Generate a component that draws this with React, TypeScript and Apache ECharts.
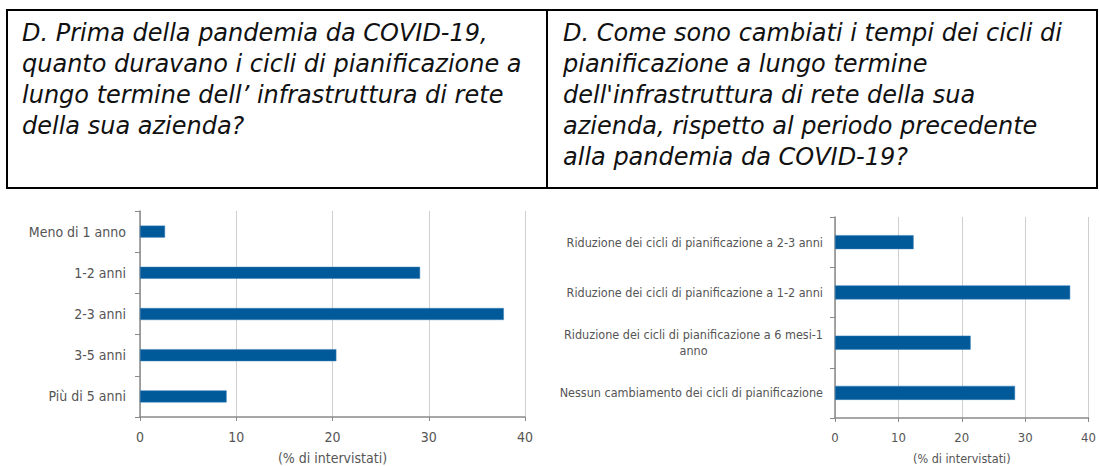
import React, { useEffect, useRef } from "react";
import * as echarts from "echarts";

const titleLeft = [
  "D. Prima della pandemia da COVID-19,",
  "quanto duravano i cicli di pianificazione a",
  "lungo termine dell’ infrastruttura di rete",
  "della sua azienda?",
];
const titleRight = [
  "D. Come sono cambiati i tempi dei cicli di",
  "pianificazione a lungo termine",
  "dell'infrastruttura di rete della sua",
  "azienda, rispetto al periodo precedente",
  "alla pandemia da COVID-19?",
];

const cats1 = ["Meno di 1 anno", "1-2 anni", "2-3 anni", "3-5 anni", "Più di 5 anni"];
const vals1 = [2.6, 29.1, 37.8, 20.4, 9.0];

const cats2 = [
  "Riduzione dei cicli di pianificazione a 2-3 anni",
  "Riduzione dei cicli di pianificazione a 1-2 anni",
  "Riduzione dei cicli di pianificazione a 6 mesi-1\nanno",
  "Nessun cambiamento dei cicli di pianificazione",
];
const vals2 = [12.4, 37.1, 21.4, 28.4];

const xTicks = [0, 10, 20, 30, 40];
const axisName = "(% di intervistati)";

const BAR = "#005a9a";
const AXIS = "#8a8a8a";
const GRID = "#cfcfcf";
const LABEL = "#555555";
const FONT = '"Liberation Sans Narrow", "DejaVu Sans Condensed", sans-serif';
const TFONT = 'italic 24px "DejaVu Sans", sans-serif';

export default function App() {
  const ref = useRef<HTMLDivElement>(null);
  useEffect(() => {
    const chart = echarts.init(ref.current!, undefined, { renderer: "svg" });
    const xAxisCommon = (gridIndex: number, size: number, nameSize: number) => ({
      type: "value" as const,
      gridIndex,
      min: xTicks[0],
      max: xTicks[xTicks.length - 1],
      interval: 10,
      name: axisName,
      nameLocation: "middle" as const,
      nameGap: 34,
      nameTextStyle: { color: LABEL, fontFamily: FONT, fontSize: nameSize },
      axisLine: { show: true, lineStyle: { color: AXIS, width: 1.5 } },
      axisTick: { show: true, length: 4, lineStyle: { color: AXIS } },
      axisLabel: { color: LABEL, fontFamily: FONT, fontSize: size, margin: 13 },
      splitLine: { show: true, lineStyle: { color: GRID, width: 1 } },
    });
    const yAxisCommon = (gridIndex: number, data: string[], size: number, margin: number) => ({
      type: "category" as const,
      gridIndex,
      data,
      inverse: true,
      axisLine: { show: true, lineStyle: { color: AXIS, width: 1.5 } },
      axisTick: { show: true, length: 5, lineStyle: { color: AXIS } },
      axisLabel: {
        color: LABEL,
        fontFamily: FONT,
        fontSize: size,
        margin,
        lineHeight: size + 4,
        formatter: (v: string) =>
          v.includes("\n") ? v.split("\n").map((l) => `{c|${l}}`).join("\n") : v,
        rich: { c: { align: "center", color: LABEL, fontFamily: FONT, fontSize: size, lineHeight: size + 4 } },
      },
      splitLine: { show: false },
    });

    const graphics: any[] = [
      { type: "rect", shape: { x: 7, y: 10, width: 1090, height: 178 }, style: { fill: "none", stroke: "#000", lineWidth: 2 } },
      { type: "line", shape: { x1: 547, y1: 10, x2: 547, y2: 188 }, style: { stroke: "#000", lineWidth: 2 } },
      {
        type: "text",
        x: 22,
        y: 17,
        style: { text: titleLeft.join("\n"), font: TFONT, lineHeight: 31, fill: "#111", textVerticalAlign: "top" },
      },
      {
        type: "text",
        x: 563,
        y: 17,
        style: { text: titleRight.join("\n"), font: TFONT, lineHeight: 31, fill: "#111", textVerticalAlign: "top" },
      },
    ];

    chart.setOption({
      animation: false,
      grid: [
        { left: 140, top: 211, width: 385, height: 212, containLabel: false },
        { left: 835, top: 217, width: 266, height: 206, containLabel: false },
      ],
      xAxis: [xAxisCommon(0, 14, 14), xAxisCommon(1, 13, 12.5)],
      yAxis: [yAxisCommon(0, cats1, 14, 14), yAxisCommon(1, cats2, 12.5, 12)],
      series: [
        {
          type: "bar",
          xAxisIndex: 0,
          yAxisIndex: 0,
          data: vals1,
          barWidth: 12,
          itemStyle: { color: BAR, borderColor: "#3a7fb8", borderWidth: 0.5 },
        },
        {
          type: "bar",
          xAxisIndex: 1,
          yAxisIndex: 1,
          data: vals2,
          barWidth: 14,
          itemStyle: { color: BAR, borderColor: "#3a7fb8", borderWidth: 0.5 },
        },
      ],
      graphic: graphics,
    });
    return () => chart.dispose();
  }, []);
  return (
    <div
      ref={ref}
      style={{ position: "absolute", left: 0, top: 0, width: 1099, height: 466, background: "#fff", overflow: "hidden" }}
    />
  );
}
